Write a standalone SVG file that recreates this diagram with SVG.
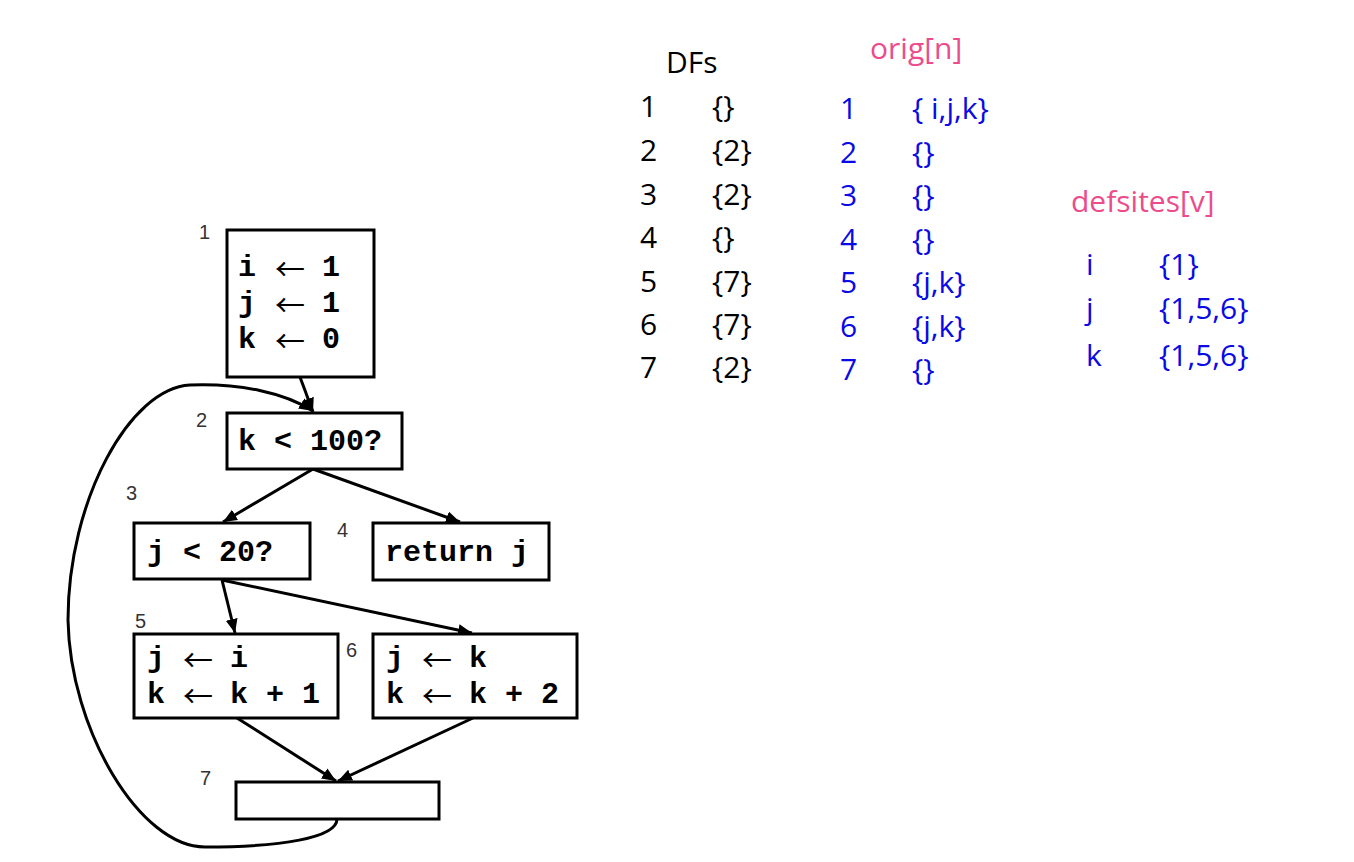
<svg xmlns="http://www.w3.org/2000/svg" width="1354" height="862" viewBox="0 0 1354 862">
<style>
.box{fill:#fff;stroke:#000;stroke-width:3}
.code{font-family:"Liberation Mono","Courier New",monospace;font-weight:bold;font-size:30px;fill:#000}
.arr{font-family:"Noto Sans CJK JP","DejaVu Sans",sans-serif;font-weight:normal;font-size:30px}
.lbl{font-family:"Liberation Sans",Arial,sans-serif;font-size:20px;fill:#333}
.edge{fill:none;stroke:#000;stroke-width:3}
.t{font-family:"Open Sans","Noto Sans",sans-serif;font-size:30px}
.blk{fill:#000}
.blu{fill:#0A0AE6}
.pnk{fill:#EC4C8C}
</style>
<defs>
<marker id="ah" markerUnits="userSpaceOnUse" markerWidth="16" markerHeight="14" refX="14" refY="6" orient="auto">
<path d="M0,0 L14,6 L0,12 Z" fill="#000"/>
</marker>
</defs>
<rect width="1354" height="862" fill="#fff"/>

<g id="edges">
<line class="edge" x1="300" y1="377" x2="313" y2="412" marker-end="url(#ah)"/>
<path class="edge" d="M337,819 C337,838 280,847 205,847 C140,847 70,730 68,620 C68,500 130,388 190,385 C240,383 285,393 313,411" marker-end="url(#ah)"/>
<line class="edge" x1="313" y1="469" x2="223" y2="522" marker-end="url(#ah)"/>
<line class="edge" x1="313" y1="469" x2="460" y2="522" marker-end="url(#ah)"/>
<line class="edge" x1="222" y1="580" x2="235" y2="633" marker-end="url(#ah)"/>
<line class="edge" x1="222" y1="580" x2="472" y2="633" marker-end="url(#ah)"/>
<line class="edge" x1="237" y1="718" x2="336" y2="781" marker-end="url(#ah)"/>
<line class="edge" x1="473" y1="718" x2="338" y2="781" marker-end="url(#ah)"/>
</g>

<g id="node1">
<rect class="box" x="227" y="230" width="147" height="147"/>
<text class="lbl" x="199" y="239">1</text>
<text class="code" y="276"><tspan x="238">i</tspan><tspan class="arr" x="275" dy="4">←</tspan><tspan x="322" dy="-4">1</tspan></text>
<text class="code" y="312"><tspan x="238">j</tspan><tspan class="arr" x="275" dy="4">←</tspan><tspan x="322" dy="-4">1</tspan></text>
<text class="code" y="348"><tspan x="238">k</tspan><tspan class="arr" x="275" dy="4">←</tspan><tspan x="322" dy="-4">0</tspan></text>
</g>

<g id="node2">
<rect class="box" x="227" y="413" width="175" height="56"/>
<text class="lbl" x="196" y="427">2</text>
<text class="code" x="238" y="450">k &lt; 100?</text>
</g>

<g id="node3">
<rect class="box" x="134" y="523" width="176" height="56"/>
<text class="lbl" x="126" y="500">3</text>
<text class="code" x="147" y="561">j &lt; 20?</text>
</g>

<g id="node4">
<rect class="box" x="373" y="523" width="176" height="57"/>
<text class="lbl" x="337" y="537">4</text>
<text class="code" x="385" y="561">return j</text>
</g>

<g id="node5">
<rect class="box" x="134" y="634" width="204" height="84"/>
<text class="lbl" x="135" y="628">5</text>
<text class="code" y="667"><tspan x="147">j</tspan><tspan class="arr" x="183" dy="4">←</tspan><tspan x="230" dy="-4">i</tspan></text>
<text class="code" y="703"><tspan x="147">k</tspan><tspan class="arr" x="183" dy="4">←</tspan><tspan x="230" dy="-4">k + 1</tspan></text>
</g>

<g id="node6">
<rect class="box" x="373" y="634" width="204" height="84"/>
<text class="lbl" x="346" y="657">6</text>
<text class="code" y="667"><tspan x="386">j</tspan><tspan class="arr" x="422" dy="4">←</tspan><tspan x="469" dy="-4">k</tspan></text>
<text class="code" y="703"><tspan x="386">k</tspan><tspan class="arr" x="422" dy="4">←</tspan><tspan x="469" dy="-4">k + 2</tspan></text>
</g>

<g id="node7">
<rect class="box" x="236" y="782" width="203" height="37"/>
<text class="lbl" x="200" y="785">7</text>
</g>

<g id="dfs">
<text class="t blk" x="666" y="73">DFs</text>
<text class="t blk" x="640" y="117">1</text><text class="t blk" x="712" y="117">{}</text>
<text class="t blk" x="640" y="161">2</text><text class="t blk" x="712" y="161">{2}</text>
<text class="t blk" x="640" y="205">3</text><text class="t blk" x="712" y="205">{2}</text>
<text class="t blk" x="640" y="248">4</text><text class="t blk" x="712" y="248">{}</text>
<text class="t blk" x="640" y="292">5</text><text class="t blk" x="712" y="292">{7}</text>
<text class="t blk" x="640" y="335">6</text><text class="t blk" x="712" y="335">{7}</text>
<text class="t blk" x="640" y="378">7</text><text class="t blk" x="712" y="378">{2}</text>
</g>

<g id="orig">
<text class="t pnk" x="870" y="59">orig[n]</text>
<text class="t blu" x="840" y="119">1</text><text class="t blu" x="912" y="119">{ i,j,k}</text>
<text class="t blu" x="840" y="163">2</text><text class="t blu" x="912" y="163">{}</text>
<text class="t blu" x="840" y="206">3</text><text class="t blu" x="912" y="206">{}</text>
<text class="t blu" x="840" y="250">4</text><text class="t blu" x="912" y="250">{}</text>
<text class="t blu" x="840" y="293">5</text><text class="t blu" x="912" y="293">{j,k}</text>
<text class="t blu" x="840" y="337">6</text><text class="t blu" x="912" y="337">{j,k}</text>
<text class="t blu" x="840" y="380">7</text><text class="t blu" x="912" y="380">{}</text>
</g>

<g id="defsites">
<text class="t pnk" x="1071" y="212">defsites[v]</text>
<text class="t blu" x="1086" y="275">i</text><text class="t blu" x="1159" y="275">{1}</text>
<text class="t blu" x="1086" y="319">j</text><text class="t blu" x="1159" y="319">{1,5,6}</text>
<text class="t blu" x="1086" y="366">k</text><text class="t blu" x="1159" y="366">{1,5,6}</text>
</g>
</svg>
